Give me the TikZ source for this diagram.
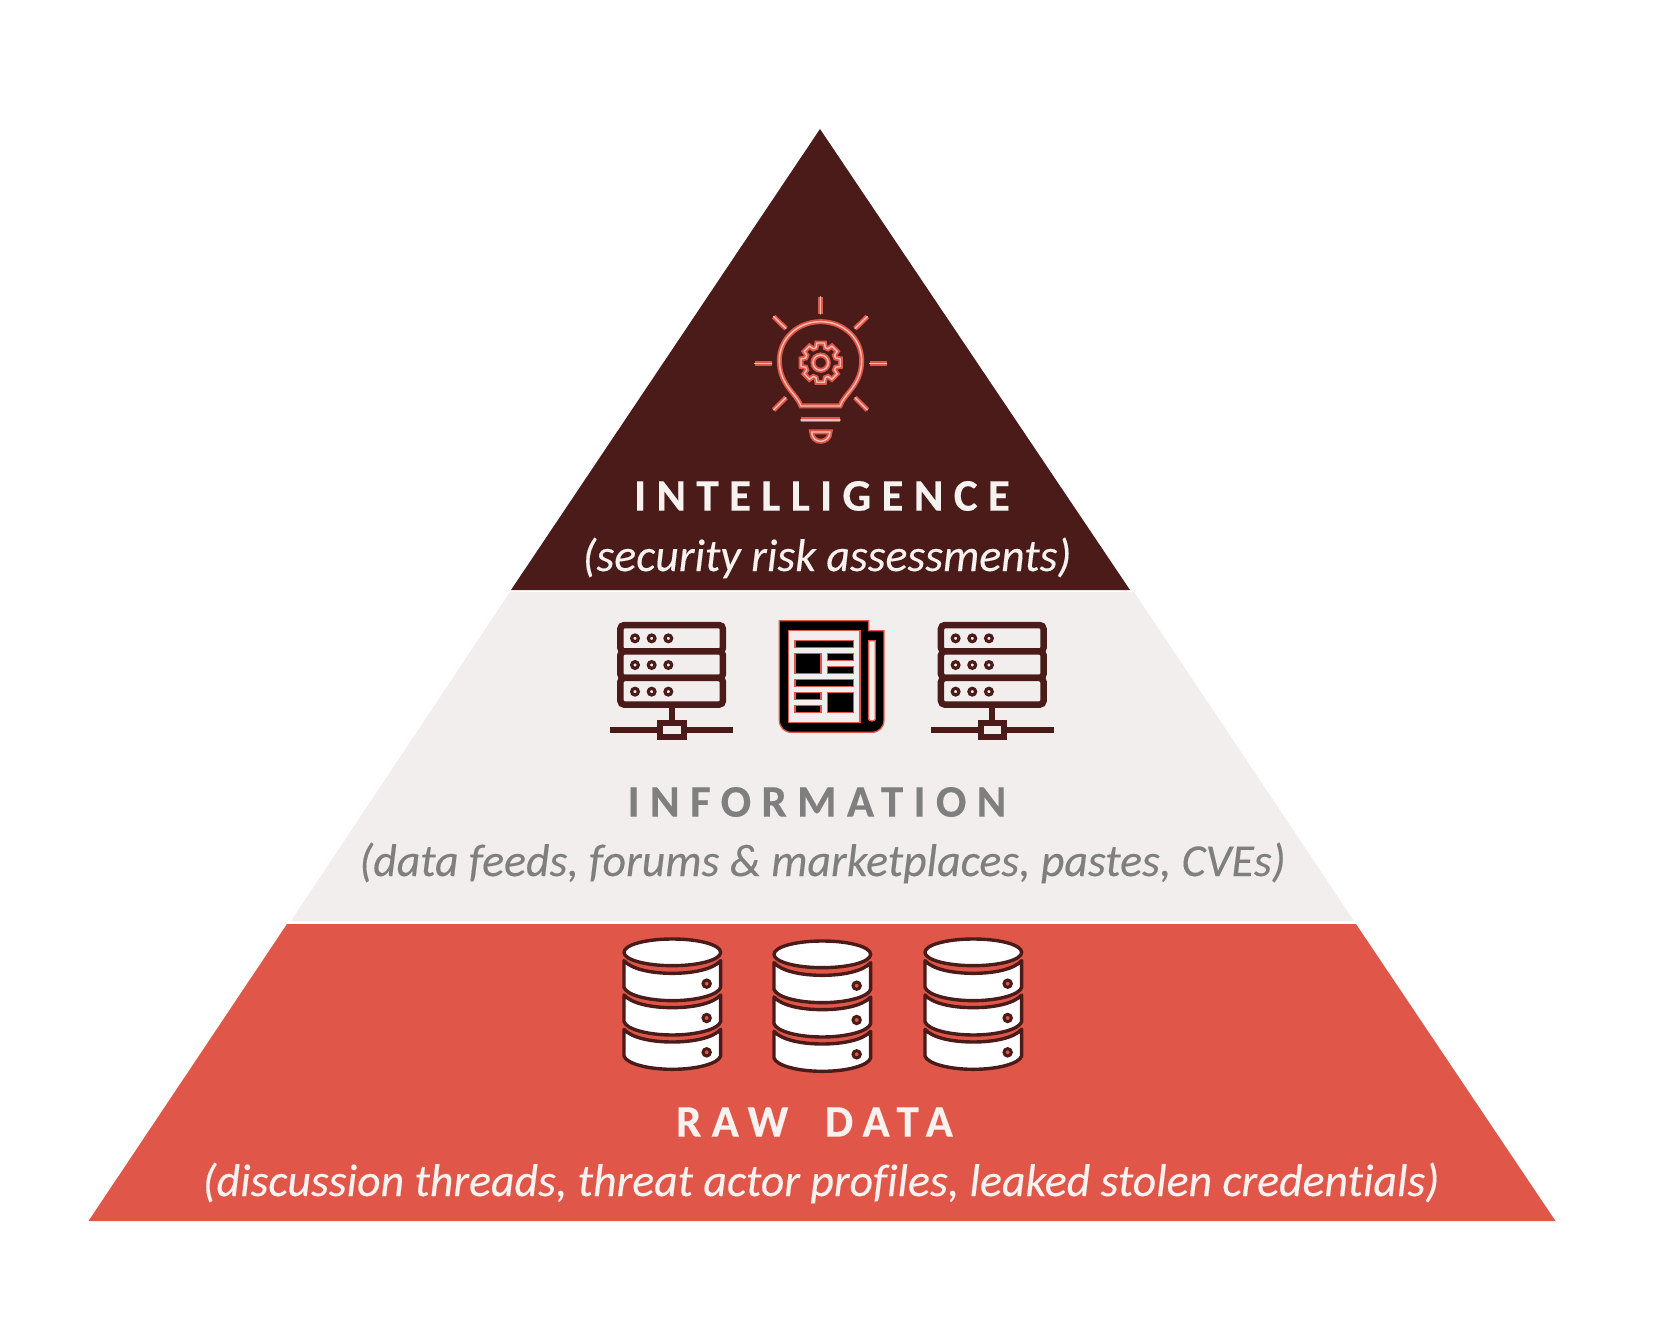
\documentclass[tikz,border=0pt]{standalone}
\usepackage{fontspec}
\setmainfont{Carlito}[Ligatures=NoCommon,ItalicFeatures={FakeBold=0.25}]
\newfontfamily\spaced{Carlito}[LetterSpace=23,Ligatures=NoCommon,BoldFeatures={FakeBold=0.35}]
\definecolor{dark}{HTML}{4A1B18}
\definecolor{redd}{HTML}{E05749}
\definecolor{pale}{HTML}{F2EEEE}
\definecolor{dotc}{HTML}{E2DCDB}
\definecolor{txtw}{HTML}{F5F2F0}
\definecolor{txtg}{HTML}{7F7F7F}
\definecolor{glow}{HTML}{F6BDB5}
\tikzset{
  heading/.style={font=\spaced\bfseries\fontsize{45}{45}\selectfont,inner sep=0pt,anchor=center,text=txtw},
  subline/.style={font=\itshape\fontsize{45.8}{46}\selectfont,inner sep=0pt,anchor=center,text=txtw},
  neon/.style={preaction={draw=redd,line width=5pt},draw=glow,line width=1.4pt,line cap=round,line join=round},
  zoomed/.style={x=0.3333pt,y=-0.3333pt},
  srv/.style={draw=dark,line width=6.5pt,fill=pale,rounded corners=4pt},
  paper/.style={draw=redd,line width=1.3pt,fill=black},
  sheet/.style={draw=redd,line width=1.3pt,fill=pale},
  can/.style={draw=dark,line width=3.4pt,fill=white,line join=round}
}
\newcommand{\serverIcon}{%
  \foreach \yy in {45,124,204}{
    \draw[srv] (61,\yy) rectangle (369,\yy+80);
  }
  \foreach \yy in {85,165,245}{
    \foreach \xx in {105,155,205}{
      \draw[dark,line width=3.2pt,fill=pale] (\xx,\yy) circle (10);
    }
  }
  \fill[dark] (206,295) rectangle (224,335);
  \fill[dark] (30,351) rectangle (400,369);
  \draw[dark,line width=6pt,fill=pale] (181,339) rectangle (251,381);
}
\newcommand{\canIcon}{%
  \draw[can] (42,67) .. controls (42,45) and (105,27) .. (187,27) .. controls (269,27) and (332,45) .. (332,67) .. controls (332,89) and (269,107) .. (187,107) .. controls (105,107) and (42,89) .. (42,67) -- cycle;
  \foreach \yy in {0,103,206}{
    \begin{scope}[yshift={-\yy*0.3333pt}]
    \draw[can] (42,92) .. controls (65,118) and (125,130) .. (187,130) .. controls (249,130) and (309,118) .. (332,92) -- (332,172) .. controls (325,195) and (260,212) .. (187,212) .. controls (114,212) and (49,195) .. (42,172) -- cycle;
    \draw[dark,line width=3pt,fill=redd] (290,161) circle (11);
    \end{scope}
  }
}
\begin{document}
\begin{tikzpicture}[x=1pt,y=-1pt]
\useasboundingbox (0,0) rectangle (1668,1324);
\fill[white] (0,0) rectangle (1668,1324);
% tiers
\fill[dark] (820,129) -- (1130,590) -- (511,590) -- cycle;
\fill[pale] (510,592) -- (1134,592) -- (1354,921) -- (291,921) -- cycle;
\begin{scope}
  \clip (510,592) -- (1134,592) -- (1354,921) -- (291,921) -- cycle;
  \foreach \j in {0,...,40}{
    \foreach \i in {0,...,135}{
      \pgfmathsetmacro{\dx}{290+8*\i+4*mod(\j,2)}
      \pgfmathsetmacro{\dy}{594+8*\j}
      \fill[dotc] (\dx,\dy) circle (0.45);
    }
  }
\end{scope}
\fill[redd] (287,924) -- (1356,924) -- (1555.5,1221) -- (88.5,1221) -- cycle;
% bulb
\begin{scope}[shift={(720,270)},zoomed]
  \draw[neon] (302,80) -- (302,132);
  \draw[neon] (104,280) -- (155,280);
  \draw[neon] (449,280) -- (500,280);
  \draw[neon] (161,140) -- (198,176);
  \draw[neon] (442,140) -- (405,176);
  \draw[neon] (161,420) -- (198,383);
  \draw[neon] (442,420) -- (405,383);
  \draw[neon] (243,408) -- (360,408) .. controls (372,372) and (425,345) .. (425,272) .. controls (425,205) and (370,155) .. (302,155) .. controls (234,155) and (178,205) .. (178,272) .. controls (178,345) and (231,372) .. (243,408) -- cycle;
  \draw[neon] (243,450) -- (360,450);
  \draw[neon] (275,486) -- (330,486) .. controls (330,505) and (315,514) .. (302,514) .. controls (289,514) and (275,505) .. (275,486) -- cycle;
  \draw[neon] (302,278) circle (23);
  \begin{scope}[shift={(302,278)}]
    \draw[neon] (-11:60) \foreach \a in {0,45,...,315}{
      -- (\a-11:60) -- (\a+11:60) -- (\a+17:47) -- (\a+28:47)
    } -- cycle;
  \end{scope}
\end{scope}
\node[heading] (t1) at (822,496) {INTELLIGENCE};
\node[subline] (s1) at (827,558) {(security risk assessments)};
% information icons
\begin{scope}[shift={(600,610)},zoomed]
  \serverIcon
\end{scope}
\begin{scope}[shift={(920.6,610)},zoomed]
  \serverIcon
\end{scope}
\begin{scope}[shift={(600,610)},zoomed]
  \draw[paper] (538,32) -- (806,32) -- (806,62) -- (852,62) -- (852,330) .. controls (852,352) and (837,367) .. (815,367) -- (575,367) .. controls (553,367) and (538,352) .. (538,330) -- cycle;
  \draw[sheet] (565,62) rectangle (780,337);
  \draw[sheet] (806,92) -- (826,92) -- (826,327) .. controls (826,335) and (806,335) .. (806,327) -- cycle;
  \draw[paper] (585,91) rectangle (760,112);
  \draw[paper] (585,130) rectangle (663,190);
  \draw[paper] (682,130) rectangle (760,152);
  \draw[paper] (682,170) rectangle (760,190);
  \draw[paper] (585,209) rectangle (760,230);
  \draw[paper] (585,248) rectangle (663,269);
  \draw[paper] (682,248) rectangle (760,307);
  \draw[paper] (585,287) rectangle (663,307);
\end{scope}
\node[heading,text=txtg] (t2) at (817,802) {INFORMATION};
\node[subline,text=txtg] (s2) at (822.5,863) {(data feeds, forums \& marketplaces, pastes, CVEs)};
% raw data icons
\begin{scope}[shift={(610,930)},zoomed] \canIcon \end{scope}
\begin{scope}[shift={(760,932)},zoomed] \canIcon \end{scope}
\begin{scope}[shift={(911,930)},zoomed] \canIcon \end{scope}
\node[heading] (t3) at (814.5,1122) {RAW\hspace{36.5pt}DATA};
\node[subline] (s3) at (821,1183) {(discussion threads, threat actor profiles, leaked stolen credentials)};
\end{tikzpicture}
\end{document}
